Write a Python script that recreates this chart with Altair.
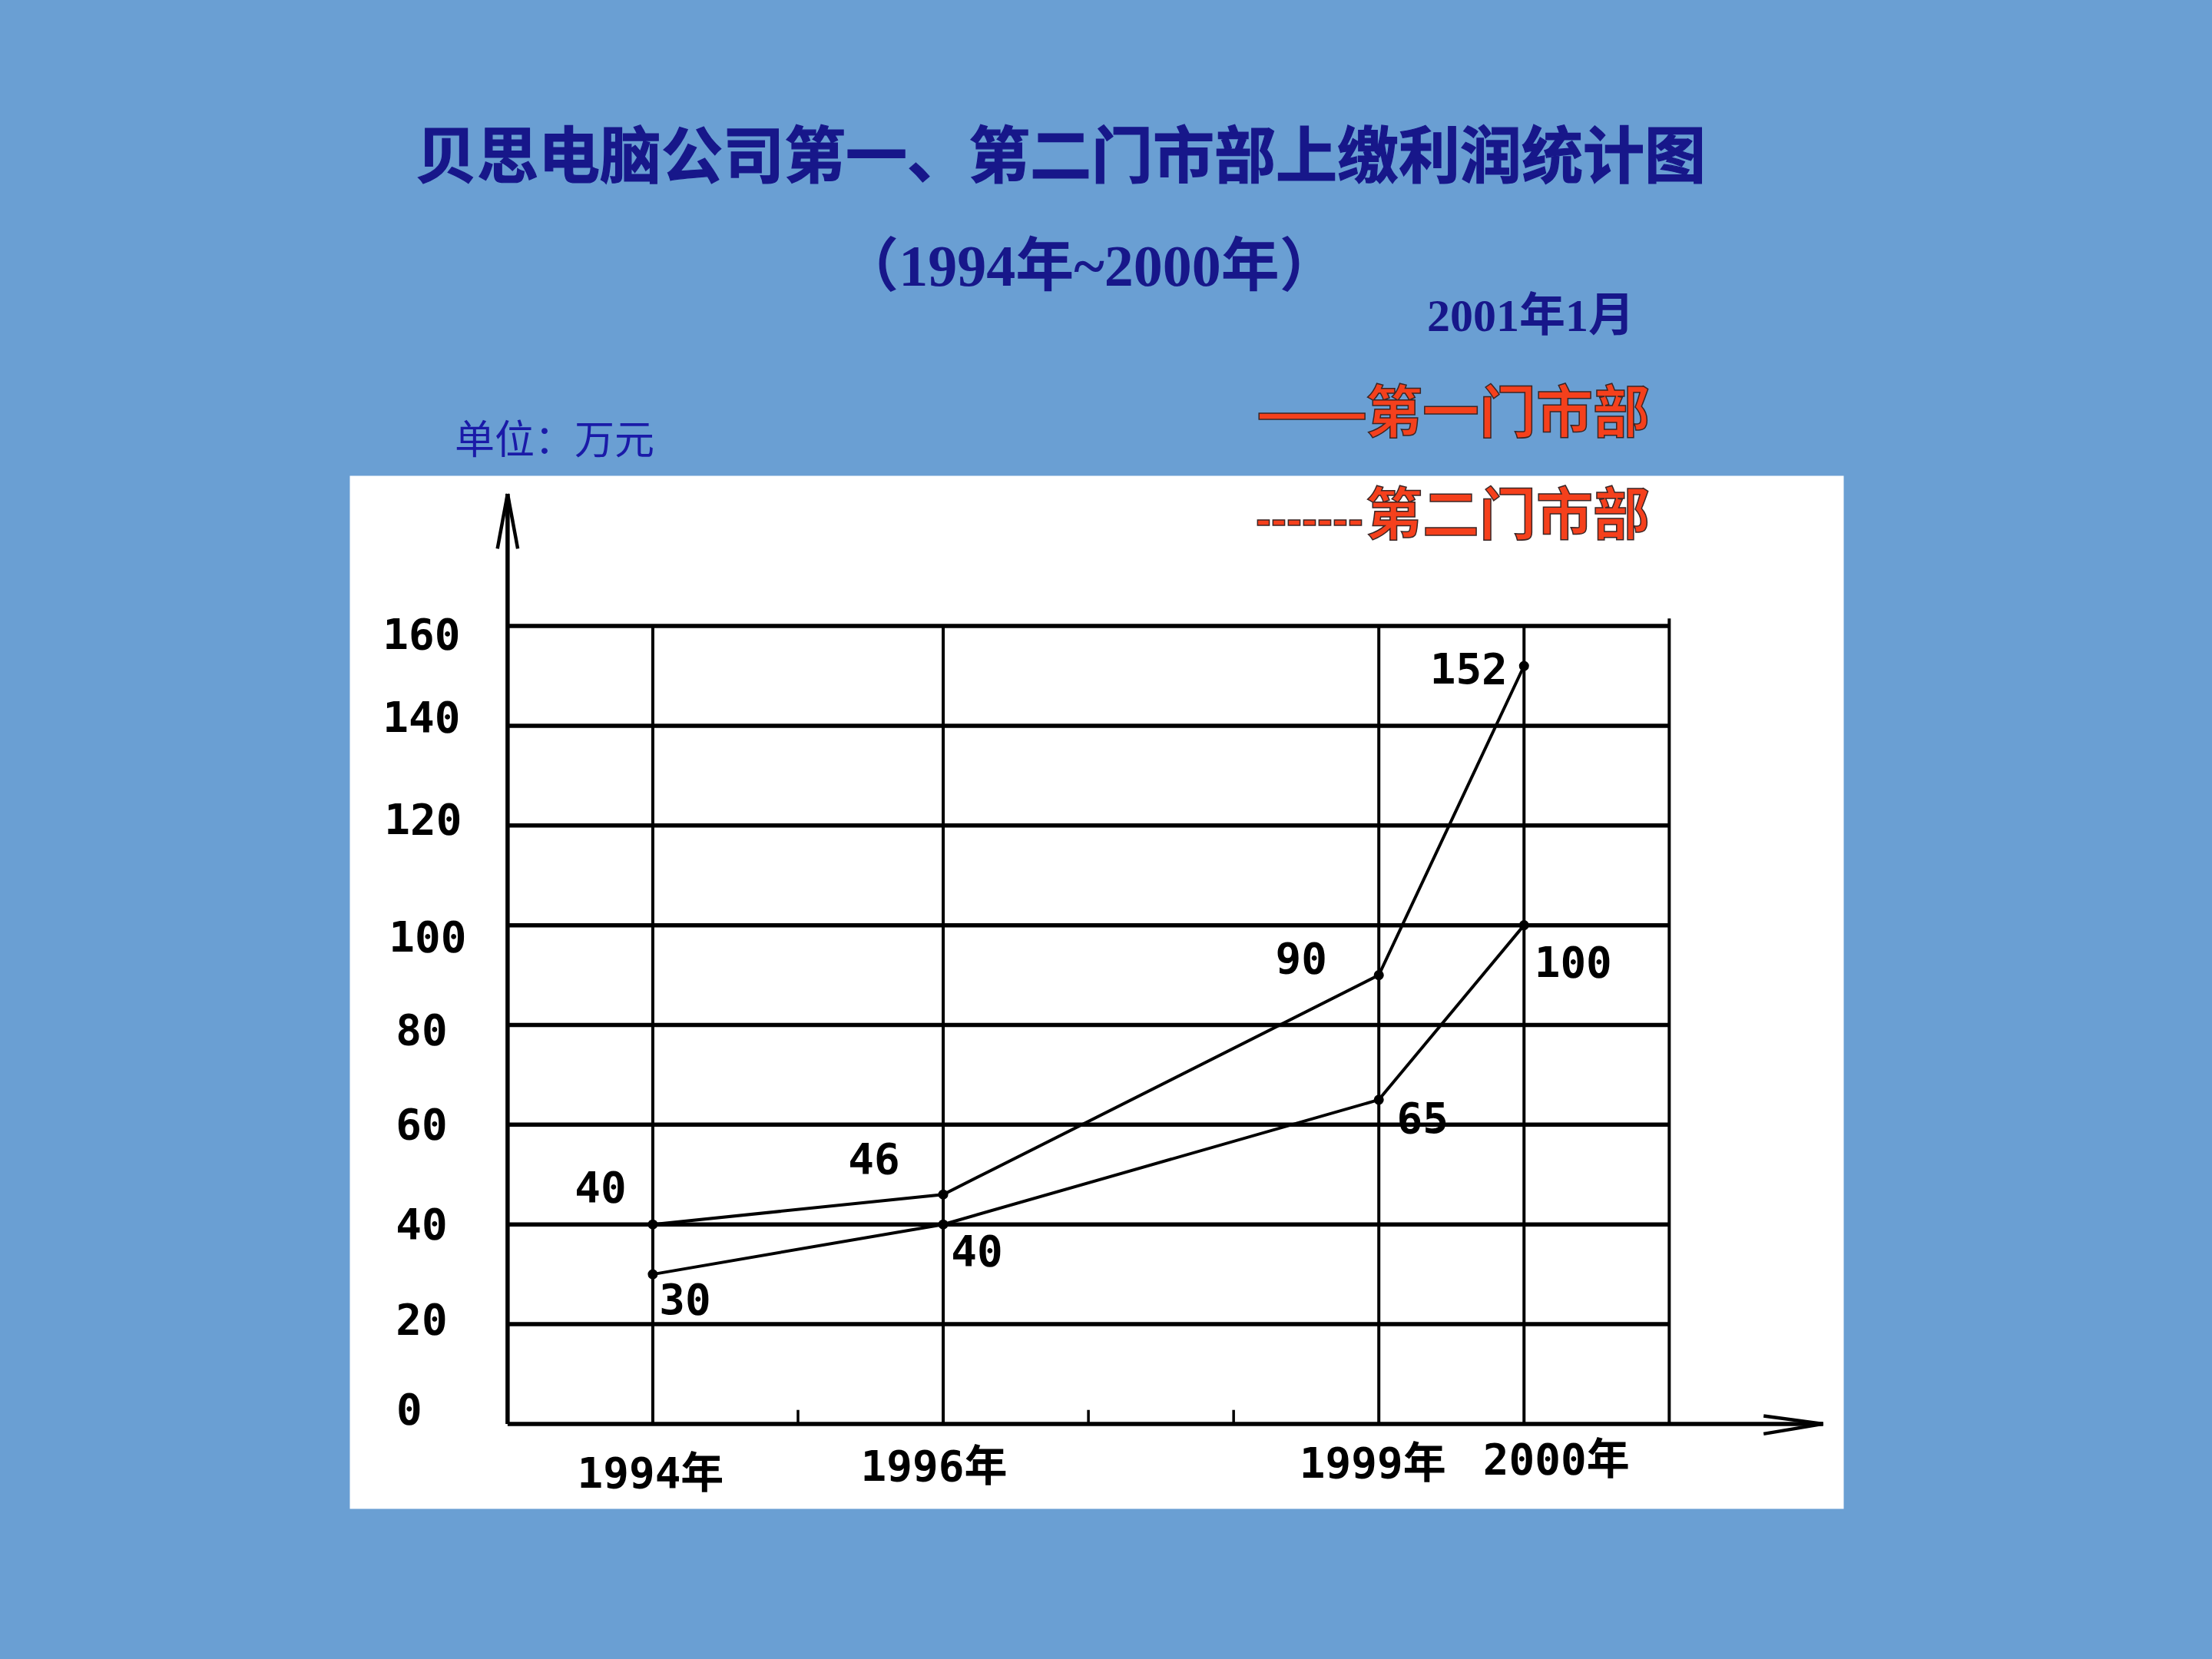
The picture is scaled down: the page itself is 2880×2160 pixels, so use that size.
import altair as alt
import pandas as pd

# ---------------- data ----------------
years = [1994, 1996, 1999, 2000]
store1 = [40, 46, 90, 152]
store2 = [30, 40, 65, 100]
series_names = ["第一门市部", "第二门市部"]

y_ticks = [0, 20, 40, 60, 80, 100, 120, 140, 160]
grid_values = [20, 40, 60, 80, 100, 120, 140, 160]
grid_years = [1994, 1996, 1999, 2000]
minor_years = [1995, 1997, 1998]
x_label_years = [1994, 1996, 1999, 2000]
x_labels = ["1994年", "1996年", "1999年", "2000年"]
origin_year = 1993
frame_year = 2001
grid_top = 160
frame_top = 161.5
y_axis_top = 186.5
x_axis_end = 2002.06

title_text = "贝思电脑公司第一、第二门市部上缴利润统计图"
subtitle_text = "（1994年~2000年）"
date_text = "2001年1月"
unit_text = "单位：万元"
legend_keys = ["——", "-------"]
legend_names = series_names

# label offsets (pixels) for the hand-placed labels
s1_offsets = [(-68, -46), (-90, -44), (-101, -20), (-72, 6)]
s2_offsets = [(42, 35), (44, 37), (57, 26), (64, 50)]
xlab_offsets = [(-3, 66), (-12, 57), (-8, 53), (42, 48)]
ylab_offsets = [(-128, -17), (-112, -4), (-112, 2), (-112, 2), (-112, 9),
                (-104, 17), (-110, -6), (-112, -9), (-112, 13)]

# ---------------- styling ----------------
BG = "#6a9fd3"
NAVY = "#17178a"
BLUE = "#1a1aa8"
RED = "#f5401c"
NUM_FONT = "DejaVu Sans Mono, Noto Sans CJK SC"
CJK = "Noto Sans CJK SC"
SERIF = "Liberation Serif, Noto Sans CJK SC"
DASH_FONT = "Liberation Sans"

xs = alt.Scale(domain=[1991.911, 2002.199], nice=False, zero=False)
ys = alt.Scale(domain=[-16.96, 190.2], nice=False, zero=False)


def X(field="year"):
    return alt.X(field, type="quantitative", scale=xs, axis=None)


def X2(field):
    return alt.X2(field)


def Y(field="value"):
    return alt.Y(field, type="quantitative", scale=ys, axis=None)


layers = []

# horizontal grid lines
hgrid = pd.DataFrame({"value": grid_values, "x0": origin_year, "x1": frame_year})
layers.append(
    alt.Chart(hgrid).mark_rule(color="black", strokeWidth=5.5).encode(
        x=X("x0"), x2=X2("x1"), y=Y("value"))
)

# vertical grid lines
vgrid = pd.DataFrame({"year": grid_years + [frame_year],
                      "y0": 0, "y1": [grid_top] * len(grid_years) + [frame_top]})
layers.append(
    alt.Chart(vgrid).mark_rule(color="black", strokeWidth=4).encode(
        x=X("year"), y=Y("y0"), y2=alt.Y2("y1"))
)

# minor ticks on the x axis
minor = pd.DataFrame({"year": minor_years, "y0": 0, "y1": 2.8})
layers.append(
    alt.Chart(minor).mark_rule(color="black", strokeWidth=3.5).encode(
        x=X("year"), y=Y("y0"), y2=alt.Y2("y1"))
)

# axes lines
axes_df = pd.DataFrame({"x0": [origin_year, origin_year], "x1": [origin_year, x_axis_end],
                        "y0": [0, 0], "y1": [y_axis_top, 0]})
layers.append(
    alt.Chart(axes_df).mark_rule(color="black", strokeWidth=5.5).encode(
        x=X("x0"), x2=X2("x1"), y=Y("y0"), y2=alt.Y2("y1"))
)

# arrow heads
arrows = pd.DataFrame({
    "x0": [origin_year, origin_year, x_axis_end, x_axis_end],
    "y0": [y_axis_top, y_axis_top, 0, 0],
    "x1": [origin_year - 0.07, origin_year + 0.07, x_axis_end - 0.41, x_axis_end - 0.41],
    "y1": [y_axis_top - 11, y_axis_top - 11, 1.6, -2.0],
})
layers.append(
    alt.Chart(arrows).mark_rule(color="black", strokeWidth=4.5).encode(
        x=X("x0"), x2=X2("x1"), y=Y("y0"), y2=alt.Y2("y1"))
)

# y axis labels
for v, (dx, dy) in zip(y_ticks, ylab_offsets):
    d = pd.DataFrame({"year": [origin_year], "value": [v], "t": [str(v)]})
    layers.append(
        alt.Chart(d).mark_text(dx=dx, dy=dy, font=NUM_FONT, fontSize=56, fontWeight="bold",
                               color="black", align="center", baseline="middle").encode(
            x=X(), y=Y(), text="t:N")
    )

# data lines and points
df = pd.DataFrame({"year": years * 2, "value": store1 + store2,
                   "store": [series_names[0]] * len(years) + [series_names[1]] * len(years)})
layers.append(
    alt.Chart(df).mark_line(color="black", strokeWidth=4).encode(
        x=X(), y=Y(), detail="store:N")
)
layers.append(
    alt.Chart(df).mark_point(filled=True, color="black", size=170, opacity=1).encode(
        x=X(), y=Y(), detail="store:N")
)

# value labels
for vals, offs in ((store1, s1_offsets), (store2, s2_offsets)):
    for yr, v, (dx, dy) in zip(years, vals, offs):
        d = pd.DataFrame({"year": [yr], "value": [v], "t": [str(v)]})
        layers.append(
            alt.Chart(d).mark_text(dx=dx, dy=dy, font=NUM_FONT, fontSize=56,
                                   fontWeight="bold", color="black",
                                   align="center", baseline="middle").encode(
                x=X(), y=Y(), text="t:N")
        )

# x axis labels
for yr, lab, (dx, dy) in zip(x_label_years, x_labels, xlab_offsets):
    d = pd.DataFrame({"year": [yr], "value": [0], "t": [lab]})
    layers.append(
        alt.Chart(d).mark_text(dx=dx, dy=dy, font=NUM_FONT, fontSize=56,
                               fontWeight="bold", color="black",
                               align="center", baseline="middle").encode(
            x=X(), y=Y(), text="t:N")
    )


# annotations outside the panel (pixel positions relative to the panel)
def note(text, px, py, **kw):
    d = pd.DataFrame({"t": [text]})
    return alt.Chart(d).mark_text(**kw).encode(
        text="t:N", x=alt.value(px), y=alt.value(py))


layers.append(note(title_text, 926, -412, font=CJK, fontSize=80, fontWeight="bold",
                   color=NAVY, stroke=NAVY, strokeWidth=1.2,
                   align="center", baseline="middle"))
layers.append(note(subtitle_text, 963, -270, font=SERIF, fontSize=76, fontWeight="bold",
                   color=NAVY, align="center", baseline="middle"))
layers.append(note(date_text, 1538, -206, font=SERIF, fontSize=60, fontWeight="bold",
                   color=NAVY, align="center", baseline="middle"))
layers.append(note(unit_text, 267, -44, font=CJK, fontSize=52, fontWeight="normal",
                   color=BLUE, align="center", baseline="middle"))

# legend (line key + name)
legend_rows = [-78, 55]
key_fonts = [(CJK, 86, 0), (DASH_FONT, 60, 4)]
for key, name, row, (kfont, ksize, kdy) in zip(legend_keys, legend_names, legend_rows, key_fonts):
    layers.append(note(key, 1180, row + kdy, font=kfont, fontSize=ksize, fontWeight="bold",
                       color=RED, stroke="#3a2626", strokeWidth=1.5,
                       align="left", baseline="middle"))
    layers.append(note(name, 1323, row, font=CJK, fontSize=74, fontWeight="bold",
                       color=RED, stroke="#3a2626", strokeWidth=1.5,
                       align="left", baseline="middle"))

chart = alt.layer(*layers).properties(
    width=1945,
    height=1345,
    background=BG,
    padding={"left": 455, "top": 619, "right": 480, "bottom": 196},
    autosize=alt.AutoSizeParams(type="none"),
).configure_view(fill="white", stroke="transparent")

chart.save("out.html", embed_options={"renderer": "svg", "actions": False})
